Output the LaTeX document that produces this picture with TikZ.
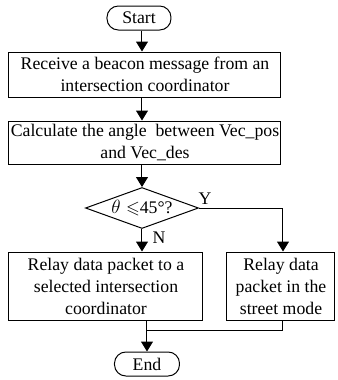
\documentclass[tikz,border=0pt]{standalone}
\usepackage{amssymb}
\usepackage{fontspec}
\setmainfont{Liberation Serif}
\usetikzlibrary{shapes.geometric,arrows.meta}
\begin{document}
\begin{tikzpicture}[x=0.75pt,y=-0.75pt,
  every node/.style={font=\fontsize{13.3}{16.5}\selectfont, inner sep=0pt, align=center},
  proc/.style={draw, line width=0.75pt, rectangle},
  term/.style={draw, line width=0.75pt, rounded corners=8.5pt, minimum height=18pt},
  dec/.style={draw, line width=0.75pt, diamond, aspect=2.76, minimum width=84.75pt, minimum height=30.75pt},
  flow/.style={line width=0.75pt, -{Triangle[length=7.5pt,width=9pt]}},
  seg/.style={line width=0.75pt}]
\useasboundingbox (0,0) rectangle (337,380);
\node[term, minimum width=48pt] (start) at (139,18) {Start};
\node[proc, minimum width=204pt, minimum height=33.75pt] (recv) at (145,74.5) {Receive a beacon message from an\\intersection coordinator};
\node[proc, minimum width=204pt, minimum height=32.25pt] (calc) at (145,142.5) {Calculate the angle\ \ between Vec\_pos\\and Vec\_des};
\node[dec] (cond) at (142,208) {$\theta\leqslant$45°?};
\node[proc, minimum width=145.5pt, minimum height=51pt] (relayL) at (106,286) {Relay data packet to a\\selected intersection\\coordinator};
\node[proc, minimum width=81pt, minimum height=51pt] (relayR) at (281,286) {Relay data\\packet in the\\street mode};
\node[term, minimum width=48.75pt] (end) at (147,364) {End};
\node (ylab) at (205,199) {Y};
\node (nlab) at (159,238) {N};
\coordinate (merge) at (147,330);
\draw[flow] (start.south -| cond.north) -- (cond.north |- recv.north);
\draw[flow] (recv.south -| cond.north) -- (cond.north |- calc.north);
\draw[flow] (calc.south -| cond.north) -- (cond.north);
\draw[flow] (cond.south) -- (cond.south |- relayL.north);
\draw[flow] (cond.east) -| ([xshift=1.5pt]relayR.north);
\draw[seg] ([xshift=1.5pt]relayR.south) |- (merge);
\draw[flow] (merge |- relayL.south) -- (end.north);
\end{tikzpicture}
\end{document}
